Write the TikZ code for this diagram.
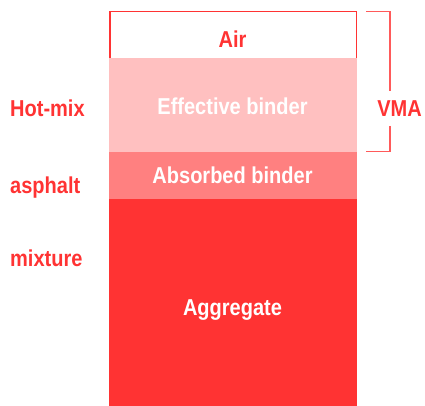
\documentclass[tikz,border=0pt]{standalone}
\usepackage{fontspec}
\setmainfont{Liberation Sans}[BoldFont={* Bold},BoldFeatures={FakeStretch=0.87}]
\definecolor{mixred}{HTML}{FF3333}
\definecolor{absorbred}{HTML}{FF8080}
\definecolor{effred}{HTML}{FFC0C0}
\definecolor{bracketred}{HTML}{FF5A5A}
\tikzset{
  lbl/.style={font=\fontsize{23}{25}\selectfont\bfseries, inner sep=0pt},
  redlbl/.style={lbl, text=mixred},
  whitelbl/.style={lbl, text=white},
}
\begin{document}
\begin{tikzpicture}[x=1pt,y=-1pt]
\useasboundingbox (0,0) rectangle (425,406);
% phase layers of the mixture
\fill[mixred] (109,199) rectangle (357,406);
\fill[absorbred] (109,152) rectangle (357,199);
\fill[effred] (109,58) rectangle (357,152);
\draw[mixred, line width=1.5pt] (109.75,58) -- (109.75,11.75) -- (356.25,11.75) -- (356.25,58);
% layer labels
\node[redlbl, anchor=base] (air) at (232.5,48) {Air};
\node[whitelbl, anchor=base] (eff) at (232.5,115) {Effective binder};
\node[whitelbl, anchor=base] (abs) at (232.5,183) {Absorbed binder};
\node[whitelbl, anchor=base] (agg) at (232.5,315) {Aggregate};
% left caption
\node[redlbl, anchor=base west] (hot) at (10,117) {Hot-mix};
\node[redlbl, anchor=base west] (asph) at (10,193) {asphalt};
\node[redlbl, anchor=base west] (mix) at (10,266) {mixture};
% VMA bracket
\node[redlbl, anchor=base] (vma) at (399.5,117) {VMA};
\coordinate (bt) at (366,11.75);
\coordinate (bb) at (366,151.75);
\draw[bracketred, line width=1.5pt] (bt) -- (389.75,11.75) -- (389.75,91);
\draw[bracketred, line width=1.5pt] (389.75,126) -- (389.75,151.75) -- (bb);
\end{tikzpicture}
\end{document}
